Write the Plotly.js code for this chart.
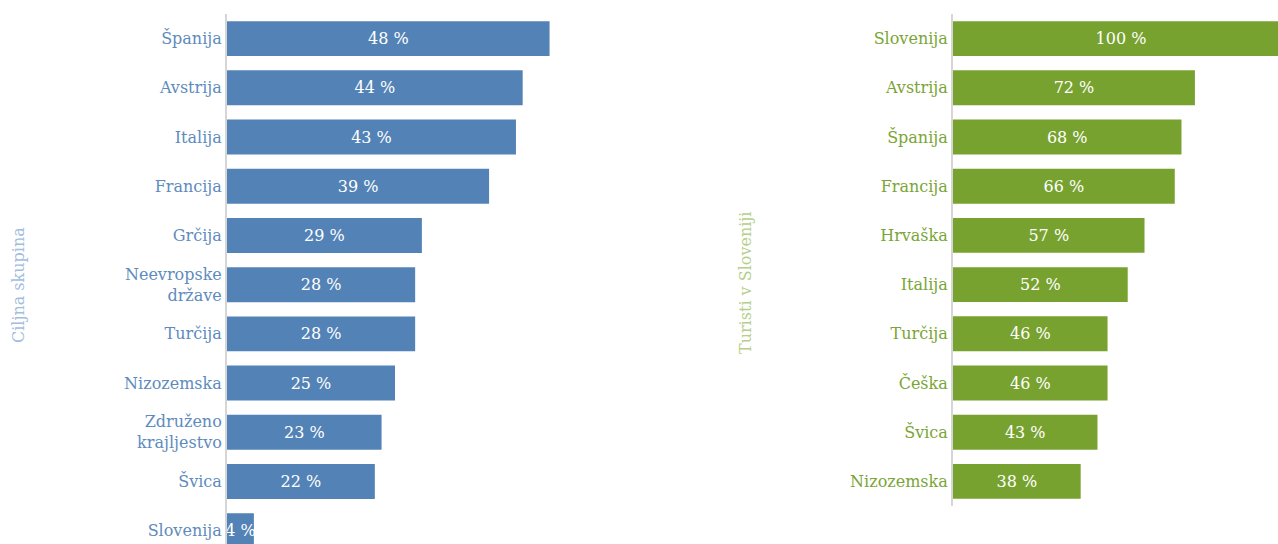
<!DOCTYPE html>
<html>
<head>
<meta charset="utf-8">
<script src="https://cdn.plot.ly/plotly-3.0.1.min.js"></script>
<style>html,body{margin:0;padding:0;background:#fff;}#chart{width:1278px;height:544px;}</style>
</head>
<body>
<div id="chart"></div>
<script>
// Left panel: Ciljna skupina
const leftCategories = ["Španija", "Avstrija", "Italija", "Francija", "Grčija", "Neevropske<br>države", "Turčija", "Nizozemska", "Združeno<br>krajljestvo", "Švica", "Slovenija"];
const leftValues = [48, 44, 43, 39, 29, 28, 28, 25, 23, 22, 4];

// Right panel: Turisti v Sloveniji
const rightCategories = ["Slovenija", "Avstrija", "Španija", "Francija", "Hrvaška", "Italija", "Turčija", "Češka", "Švica", "Nizozemska"];
const rightValues = [100, 72, 68, 66, 57, 52, 46, 46, 43, 38];

const leftTitle = "Ciljna skupina";
const rightTitle = "Turisti v Sloveniji";

const FONT = "DejaVu Serif";
const W = 1278, H = 544;
const blue = "#5383b6", green = "#78a22f";

const traces = [
  {
    type: "bar", orientation: "h",
    x: leftValues, y: leftCategories,
    xaxis: "x", yaxis: "y",
    width: 0.71,
    marker: {color: blue},
    text: leftValues.map(v => v + " %"),
    textposition: "inside", insidetextanchor: "middle", constraintext: "none", textangle: 0,
    textfont: {family: FONT, size: 16, color: "#ffffff"},
    hoverinfo: "none"
  },
  {
    type: "bar", orientation: "h",
    x: rightValues, y: rightCategories,
    xaxis: "x2", yaxis: "y2",
    width: 0.71,
    marker: {color: green},
    text: rightValues.map(v => v + " %"),
    textposition: "inside", insidetextanchor: "middle", constraintext: "none", textangle: 0,
    textfont: {family: FONT, size: 16, color: "#ffffff"},
    hoverinfo: "none"
  }
];

const leftX0 = 227, leftX1 = 700, rightX0 = 953;
const pxLeft = 6.72, pxRight = 3.36;

const layout = {
  width: W, height: H,
  margin: {l: 0, r: 0, t: 14, b: 0},
  paper_bgcolor: "#ffffff", plot_bgcolor: "rgba(0,0,0,0)",
  showlegend: false,
  bargap: 0.29,
  font: {family: FONT},
  xaxis: {
    domain: [leftX0 / W, leftX1 / W],
    range: [0, (leftX1 - leftX0) / pxLeft],
    showgrid: false, zeroline: false, showticklabels: false, showline: false, ticks: ""
  },
  yaxis: {
    domain: [0, 1],
    type: "category",
    range: [10.27, -0.5],
    showgrid: false, zeroline: false,
    showline: true, linecolor: "#d6d6d6", linewidth: 2,
    ticks: "", ticklabelstandoff: 0,
    tickfont: {family: FONT, size: 16, color: "#5e8bbd"},
    anchor: "x"
  },
  xaxis2: {
    domain: [rightX0 / W, 1],
    range: [0, (W - rightX0) / pxRight],
    showgrid: false, zeroline: false, showticklabels: false, showline: false, ticks: ""
  },
  yaxis2: {
    domain: [(H - 506) / (H - 14), 1],
    type: "category",
    range: [9.5, -0.5],
    showgrid: false, zeroline: false,
    showline: true, linecolor: "#d6d6d6", linewidth: 2,
    ticks: "", ticklabelstandoff: 0,
    tickfont: {family: FONT, size: 16, color: "#7aa536"},
    anchor: "x2"
  },
  annotations: [
    {text: leftTitle, xref: "paper", yref: "paper", x: 18 / W, y: (H - 285) / (H - 14),
     xanchor: "center", yanchor: "middle", textangle: -90, showarrow: false,
     font: {family: FONT, size: 16, color: "#a3bddd"}},
    {text: rightTitle, xref: "paper", yref: "paper", x: 745 / W, y: (H - 283) / (H - 14),
     xanchor: "center", yanchor: "middle", textangle: -90, showarrow: false,
     font: {family: FONT, size: 16, color: "#b5cf8a"}}
  ]
};

Plotly.newPlot("chart", traces, layout, {displayModeBar: false, staticPlot: true});
</script>
</body>
</html>
